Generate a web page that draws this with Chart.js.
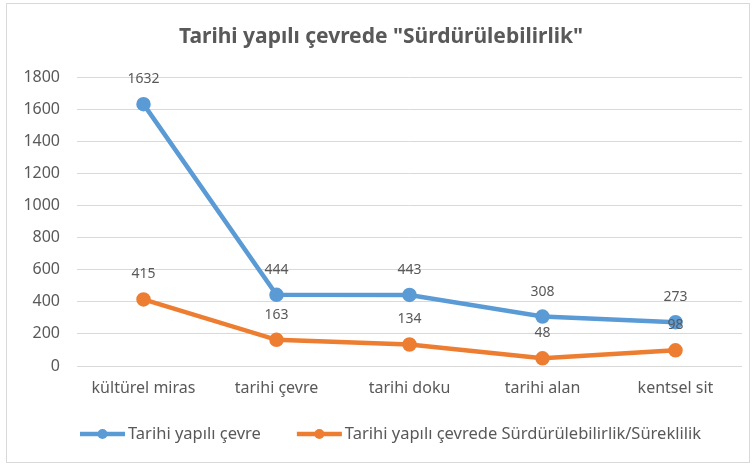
<!DOCTYPE html>
<html>
<head>
<meta charset="utf-8">
<script src="https://cdn.jsdelivr.net/npm/chart.js@4"></script>
<style>
  html, body { margin: 0; padding: 0; background: #fff; }
  #wrap { width: 753px; height: 467px; position: relative; }
</style>
</head>
<body>
<div id="wrap"><canvas id="myChart" width="753" height="467"></canvas></div>
<script>
// chart data
const categories = ['kültürel miras', 'tarihi çevre', 'tarihi doku', 'tarihi alan', 'kentsel sit'];
const yapiliCevre = [1632, 444, 443, 308, 273];
const surdurulebilirlik = [415, 163, 134, 48, 98];
const seriesNames = ['Tarihi yapılı çevre', 'Tarihi yapılı çevrede Sürdürülebilirlik/Süreklilik'];
const yTicks = [0, 200, 400, 600, 800, 1000, 1200, 1400, 1600, 1800];

const FONT = '"Noto Sans", sans-serif';
const TEXT = '#595959';
const BLUE = '#5B9BD5';
const ORANGE = '#ED7D31';

// value labels, legend (line + dot like excel) and outer frame
const extras = {
    id: 'extras',
    afterLayout(chart) {
        // title is centred a bit right of the canvas centre in the original
        chart.titleBlock.left += 20;
    },
    afterDatasetsDraw(chart) {
        const ctx = chart.ctx;
        ctx.save();
        ctx.font = '14px ' + FONT;
        ctx.fillStyle = TEXT;
        ctx.textAlign = 'center';
        ctx.textBaseline = 'middle';
        chart.data.datasets.forEach((ds, i) => {
            chart.getDatasetMeta(i).data.forEach((pt, j) => {
                ctx.fillText(ds.data[j], pt.x, pt.y - 25);
            });
        });
        ctx.restore();
    },
    afterDraw(chart) {
        const ctx = chart.ctx;
        ctx.save();
        // legend
        let x = 80;
        const y = 434;
        ctx.font = '16.5px ' + FONT;
        ctx.textBaseline = 'middle';
        ctx.textAlign = 'left';
        chart.data.datasets.forEach((ds) => {
            ctx.strokeStyle = ds.borderColor;
            ctx.fillStyle = ds.borderColor;
            ctx.lineWidth = 4.5;
            ctx.beginPath(); ctx.moveTo(x, y); ctx.lineTo(x + 45, y); ctx.stroke();
            ctx.beginPath(); ctx.arc(x + 22.5, y, 5, 0, Math.PI * 2); ctx.fill();
            ctx.fillStyle = TEXT;
            ctx.fillText(ds.label, x + 48, y);
            x += 48 + ctx.measureText(ds.label).width + 36;
        });
        // frame
        ctx.strokeStyle = '#D9D9D9';
        ctx.lineWidth = 1;
        ctx.strokeRect(6.5, 3.5, 743, 459);
        ctx.restore();
    }
};

const ctx = document.getElementById('myChart');
const myChart = new Chart(ctx, {
    type: 'line',
    data: {
        labels: categories,
        datasets: [{
            label: seriesNames[0],
            data: yapiliCevre,
            borderColor: BLUE,
            backgroundColor: BLUE,
            borderWidth: 4.5,
            pointRadius: 5,
            pointHoverRadius: 5,
            tension: 0
        }, {
            label: seriesNames[1],
            data: surdurulebilirlik,
            borderColor: ORANGE,
            backgroundColor: ORANGE,
            borderWidth: 4.5,
            pointRadius: 5,
            pointHoverRadius: 5,
            tension: 0
        }]
    },
    options: {
        responsive: false,
        animation: false,
        layout: { padding: { left: 0, right: 11, top: 0, bottom: 54 } },
        plugins: {
            title: {
                display: true,
                text: 'Tarihi yapılı çevrede "Sürdürülebilirlik"',
                color: TEXT,
                font: { family: FONT, size: 21, weight: 'bold' },
                padding: { top: 24, bottom: 28 }
            },
            legend: { display: false },
            tooltip: { enabled: false }
        },
        scales: {
            x: {
                offset: true,
                grid: { display: false, drawTicks: false },
                border: { display: false },
                afterFit(scale) { scale.height = 47; },
                ticks: { color: TEXT, font: { family: FONT, size: 16 }, padding: 13 }
            },
            y: {
                min: 0,
                max: 1800,
                afterBuildTicks(scale) {
                    scale.ticks = yTicks.map(v => ({ value: v }));
                },
                afterFit(scale) { scale.width = 77; },
                grid: { color: '#D9D9D9', drawTicks: false },
                border: { display: false },
                ticks: {
                    color: TEXT,
                    font: { family: FONT, size: 16 },
                    padding: 17,
                    callback: (v) => String(v)
                }
            }
        }
    },
    plugins: [extras]
});
</script>
</body>
</html>
